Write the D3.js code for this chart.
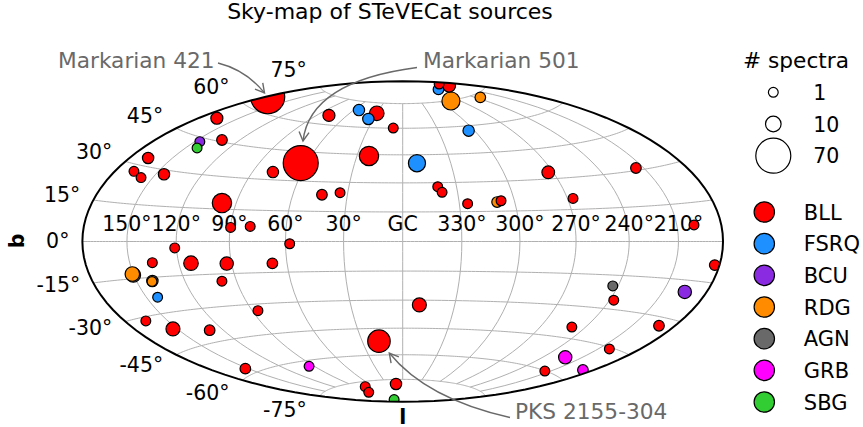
<!DOCTYPE html>
<html>
<head>
<meta charset="utf-8">
<style>
  body { margin: 0; background: #fff; }
  text { font-family: "DejaVu Sans", sans-serif; font-size: 20.5px; fill: #000; }
</style>
</head>
<body>
<div id="chart"></div>
<script src="https://d3js.org/d3.v7.min.js"></script>
<script>
const width = 863;
const height = 427;

// Data, one entry per source, in drawing order
const sourceL = [178.5,63.8,166.5,132.6,146.4,142.0,166.8,166.5,157.8,144.5,77.5,98.1,89.8,79.2,43.9,34.2,22.1,78.1,29.9,53.8,35.0,8.3,351.1,340.5,338.5,325.6,309.6,307.3,273.0,266.8,215.2,198.8,304.8,282.9,233.9,252.6,205.5,200.0,121.0,57.8,135.8,112.9,92.7,67.8,150.3,150.7,139.9,140.3,98.4,142.7,86.5,165.0,153.0,129.2,17.6,94.8,152.4,74.8,94.7,12.6,95.5,350.4,183.4,195.3,243.2,237.4,249.1,191.4,202.0,222.8,214.8,187.9];
const sourceB = [65.0,39.1,52.8,45.8,43.3,40.7,33.1,27.4,25.6,28.2,33.8,17.8,6.6,7.2,23.4,24.6,44.2,65.1,68.6,69.8,65.0,60.1,40.4,27.9,25.0,19.0,19.6,20.2,33.2,20.2,31.0,6.4,57.3,74.6,73.2,81.7,81.3,83.3,-2.8,-1.1,-8.9,-9.7,-10.3,-10.6,-13.5,-13.1,-16.5,-16.7,-18.4,-23.3,-33.2,-31.5,-36.5,-39.7,-52.1,-63.0,-57.5,-78.0,-81.3,-77.9,-87.9,-32.5,-8.6,-19.5,-19.8,-26.0,-39.8,-33.2,-45.6,-53.0,-60.1,-54.9];
const sourceType = ["BLL","BLL","BLL","BLL","BCU","SBG","BLL","BLL","BLL","BLL","BLL","BLL","BLL","BLL","BLL","BLL","BLL","BLL","BLL","FSRQ","FSRQ","BLL","FSRQ","BLL","BLL","BLL","RDG","BLL","BLL","BLL","BLL","BLL","FSRQ","RDG","RDG","FSRQ","BLL","BLL","BLL","BLL","BLL","BLL","BLL","BLL","AGN","RDG","AGN","RDG","BLL","FSRQ","BLL","BLL","BLL","BLL","BLL","GRB","BLL","BLL","BLL","BLL","SBG","BLL","BLL","BCU","AGN","BLL","BLL","BLL","BLL","GRB","BLL","GRB"];
const sourceSpectra = [66,70,4,2,1,1,3,1,1,3,3,18,1,1,2,1,18,4,8,3,3,1,13,1,1,1,2,1,5,1,2,1,3,15,2,2,5,1,1,1,1,8,6,2,8,8,3,1,1,1,1,1,7,2,26,1,2,1,1,3,1,7,2,6,1,1,1,2,1,6,1,2];

const typeNames = ["BLL","FSRQ","BCU","RDG","AGN","GRB","SBG"];
const typeColors = ["#ff0000","#1e90ff","#8a2be2","#ff8c00","#696969","#ff00ff","#32cd32"];
const spectraLegend = [1,10,70];

const lonTicks = [150,120,90,60,30,0,-30,-60,-90,-120,-150];
const lonLabels = ["150°","120°","90°","60°","30°","GC","330°","300°","270°","240°","210°"];
const latTicks = [75,60,45,30,15,0,-15,-30,-45,-60,-75];
const latLabels = ["75°","60°","45°","30°","15°","0°","-15°","-30°","-45°","-60°","-75°"];
// vertical shift of each latitude label against the ellipse edge
const latLabelShift = [-17,-16,-13,-10,-6,-1,2,6,9.5,12.5,13.5];

// Hammer projection, l grows to the left
function hammerRaw(lambda, phi) {
  const d = Math.sqrt(1 + Math.cos(phi) * Math.cos(lambda / 2));
  return [2 * Math.SQRT2 * Math.cos(phi) * Math.sin(lambda / 2) / d, Math.SQRT2 * Math.sin(phi) / d];
}
const projection = d3.geoProjection(hammerRaw)
  .scale(113.25)
  .translate([402.7, 241.5])
  .reflectX(true)
  .precision(0.1);
const path = d3.geoPath(projection);

const color = d3.scaleOrdinal().domain(typeNames).range(typeColors);
// marker area is linear in the number of spectra
const area = d3.scaleLinear().domain([1, 70]).range([24, 306.25]);
const radius = n => Math.sqrt(area(n));

const svg = d3.select("#chart").append("svg")
  .attr("width", width)
  .attr("height", height);

svg.append("defs").append("clipPath").attr("id", "sky")
  .append("path").attr("d", path({type: "Sphere"}));

svg.append("defs").append("marker")
  .attr("id", "head")
  .attr("viewBox", "-10 -6 12 12")
  .attr("refX", 0).attr("refY", 0)
  .attr("markerWidth", 12).attr("markerHeight", 12)
  .attr("markerUnits", "userSpaceOnUse")
  .attr("orient", "auto")
  .append("path")
  .attr("d", "M-9,-5L0,0L-9,5")
  .attr("fill", "none")
  .attr("stroke", "#696969")
  .attr("stroke-width", 1.4);

// Grid
const grid = svg.append("g").attr("fill", "none").attr("stroke", "#b0b0b0").attr("stroke-width", 1);
grid.selectAll("path.mer")
  .data(lonTicks)
  .enter().append("path")
  .attr("d", l => path({type: "LineString", coordinates: d3.range(-75, 76, 5).map(b => [l, b])}));
grid.selectAll("path.par")
  .data(latTicks)
  .enter().append("path")
  .attr("d", b => path({type: "LineString", coordinates: d3.range(-179.9, 180, 2).concat(179.9).map(l => [l, b])}));

// Tick labels
svg.append("g").selectAll("text")
  .data(lonTicks)
  .enter().append("text")
  .attr("x", l => projection([l, 0])[0])
  .attr("y", 231)
  .attr("text-anchor", "middle")
  .text((l, i) => lonLabels[i]);

svg.append("g").selectAll("text")
  .data(latTicks)
  .enter().append("text")
  .attr("x", b => projection([179.99, b])[0] - 13)
  .attr("y", (b, i) => projection([179.99, b])[1] + latLabelShift[i] + 7.5)
  .attr("text-anchor", "end")
  .text((b, i) => latLabels[i]);

// Sources
svg.append("g").attr("clip-path", "url(#sky)")
  .selectAll("circle")
  .data(d3.range(sourceL.length))
  .enter().append("circle")
  .attr("cx", i => projection([sourceL[i], sourceB[i]])[0])
  .attr("cy", i => projection([sourceL[i], sourceB[i]])[1])
  .attr("r", i => radius(sourceSpectra[i]))
  .attr("fill", i => color(sourceType[i]))
  .attr("stroke", "#000")
  .attr("stroke-width", 1.2);

// Outline
svg.append("path")
  .attr("d", path({type: "Sphere"}))
  .attr("fill", "none")
  .attr("stroke", "#000")
  .attr("stroke-width", 2);

// Title and axis names
svg.append("text").attr("x", 390).attr("y", 19).attr("text-anchor", "middle").style("font-size", "22px").text("Sky-map of STeVECat sources");
svg.append("text").attr("x", 402.7).attr("y", 423.5).attr("text-anchor", "middle").attr("font-weight", "bold").text("l");
svg.append("text").attr("transform", "translate(24,241) rotate(-90)").attr("text-anchor", "middle").attr("font-weight", "bold").text("b");

// Annotations
const notes = [
  {name: "Markarian 421", x: 58, y: 68, from: [218, 63], ctrl: [246, 70], to: [264.5, 93]},
  {name: "Markarian 501", x: 423, y: 68, from: [417, 67.5], ctrl: [310, 81.5], to: [303, 141]},
  {name: "PKS 2155-304", x: 515, y: 419, from: [510, 417.5], ctrl: [426.4, 398.8], to: [389.3, 353]}
];
svg.append("g").selectAll("path")
  .data(notes)
  .enter().append("path")
  .attr("d", d => {
    const p = d3.path();
    p.moveTo(d.from[0], d.from[1]);
    p.quadraticCurveTo(d.ctrl[0], d.ctrl[1], d.to[0], d.to[1]);
    return p.toString();
  })
  .attr("fill", "none")
  .attr("stroke", "#696969")
  .attr("stroke-width", 1.4)
  .attr("marker-end", "url(#head)");
svg.append("g").selectAll("text")
  .data(notes)
  .enter().append("text")
  .attr("x", d => d.x)
  .attr("y", d => d.y)
  .style("fill", "#696969")
  .style("font-size", "21.7px")
  .text(d => d.name);

// Legends
svg.append("text").attr("x", 796).attr("y", 68).attr("text-anchor", "middle").style("font-size", "21.7px").text("# spectra");
const sizeRow = d3.scaleLinear().domain([0, 2]).range([92.3, 155.7]);
const sizeLegend = svg.append("g").selectAll("g")
  .data(spectraLegend)
  .enter().append("g")
  .attr("transform", (d, i) => `translate(773.3,${sizeRow(i)})`);
sizeLegend.append("circle")
  .attr("r", d => radius(d))
  .attr("fill", "none")
  .attr("stroke", "#000")
  .attr("stroke-width", 1.2);
sizeLegend.append("text").attr("x", 40).attr("y", 7.5).text(d => d);

const typeRow = d3.scaleLinear().domain([0, 6]).range([212, 402]);
const typeLegend = svg.append("g").selectAll("g")
  .data(typeNames)
  .enter().append("g")
  .attr("transform", (d, i) => `translate(764.3,${typeRow(i)})`);
typeLegend.append("circle")
  .attr("r", 10.2)
  .attr("fill", d => color(d))
  .attr("stroke", "#000")
  .attr("stroke-width", 1.2);
typeLegend.append("text").attr("x", 39.5).attr("y", 7.5).style("font-size", "21px").text(d => d);
</script>
</body>
</html>
